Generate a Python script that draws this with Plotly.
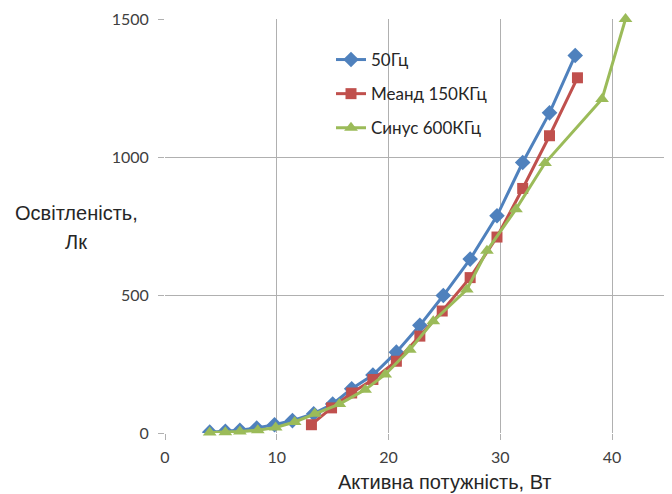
import plotly.graph_objects as go

# 50Гц
x_50 = [4.0, 5.4, 6.7, 8.2, 9.8, 11.4, 13.3, 15.0, 16.7, 18.6, 20.7, 22.8, 24.9, 27.3, 29.7, 32.0, 34.4, 36.7]
y_50 = [3, 6, 10, 18, 30, 45, 70, 105, 160, 210, 293, 390, 498, 630, 787, 980, 1160, 1368]

# Меанд 150КГц
x_m = [13.1, 14.9, 16.7, 18.6, 20.7, 22.8, 24.8, 27.3, 29.7, 32.0, 34.4, 36.9]
y_m = [30, 91, 145, 194, 260, 351, 442, 563, 710, 886, 1077, 1287]

# Синус 600КГц
x_s = [4.0, 5.4, 6.7, 8.3, 9.9, 11.6, 13.4, 15.6, 17.9, 19.7, 21.9, 24.0, 27.0, 28.8, 31.4, 34.0, 39.1, 41.2]
y_s = [2, 3, 5, 10, 20, 40, 70, 105, 157, 212, 302, 405, 520, 660, 811, 978, 1210, 1500]

names = ["50Гц", "Меанд 150КГц", "Синус 600КГц"]
x_ticks = [0, 10, 20, 30, 40]
y_ticks = [0, 500, 1000, 1500]

fig = go.Figure()
fig.add_trace(go.Scatter(x=x_50, y=y_50, name=names[0], mode="lines+markers", legendgroup="a",
                         line=dict(color="#4F81BD", width=3),
                         marker=dict(symbol="diamond", size=12, color="#4F81BD")))
fig.add_trace(go.Scatter(x=x_m, y=y_m, name=names[1], mode="lines+markers", legendgroup="b",
                         line=dict(color="#C0504D", width=3),
                         marker=dict(symbol="square", size=11, color="#C0504D")))
fig.add_trace(go.Scatter(x=x_s, y=y_s, name=names[2], mode="lines+markers", legendgroup="c",
                         line=dict(color="#9BBB59", width=3),
                         marker=dict(symbol="triangle-up", size=12, color="#9BBB59"),
                         cliponaxis=False))

L, R, T, B = 157, 12, 11, 69
W, H = 672, 494
pw, ph = W - L - R, H - T - B


def px(xf):
    return (xf - L) / pw


def py(yf):
    return (H - B - yf) / ph


grid = "#b0b0b0"
title_font = dict(family="Liberation Sans, Arial, sans-serif", size=20, color="#262626")
fig.update_layout(
    width=W, height=H,
    margin=dict(l=L, r=R, t=T, b=B),
    paper_bgcolor="white", plot_bgcolor="white",
    font=dict(family="Lato, Liberation Sans, sans-serif", size=16, color="#404040"),
    showlegend=True,
    legend=dict(x=px(323), y=py(34), xanchor="left", yanchor="top",
                bgcolor="rgba(255,255,255,0)", font=dict(size=17, color="#262626"),
                traceorder="grouped", tracegroupgap=9, itemwidth=30),
    xaxis=dict(range=[0, 45], tickvals=x_ticks, showgrid=True, gridcolor=grid, gridwidth=1,
               zeroline=False, showline=False, ticks="outside", ticklen=6, tickcolor=grid,
               ticklabelstandoff=4, automargin=False,
               tickfont=dict(size=16, color="#404040")),
    yaxis=dict(range=[0, 1500], tickvals=y_ticks, showgrid=True, gridcolor=grid, gridwidth=1,
               zeroline=False, showline=False, ticks="outside", ticklen=6, tickcolor=grid,
               ticklabelstandoff=6, automargin=False,
               tickfont=dict(size=16, color="#404040")),
)
fig.add_annotation(text="Активна потужність, Вт", x=px(437), y=py(474),
                   xref="paper", yref="paper", xanchor="center", yanchor="middle",
                   showarrow=False, font=title_font)
fig.add_annotation(text="Освітленість,", x=px(68), y=py(205),
                   xref="paper", yref="paper", xanchor="center", yanchor="middle",
                   showarrow=False, font=title_font)
fig.add_annotation(text="Лк", x=px(68), y=py(234),
                   xref="paper", yref="paper", xanchor="center", yanchor="middle",
                   showarrow=False, font=title_font)

fig.write_html("out.html")
